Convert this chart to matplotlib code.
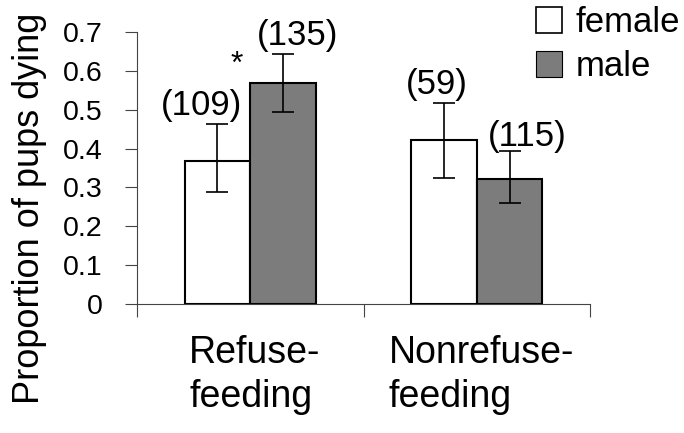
import matplotlib.pyplot as plt
from matplotlib.patches import Patch

plt.rcParams['font.family'] = ['Liberation Sans', 'DejaVu Sans']

groups = ['Refuse-\nfeeding', 'Nonrefuse-\nfeeding']
female = [0.368, 0.422]
male = [0.570, 0.321]
female_lo = [0.289, 0.325]
female_hi = [0.462, 0.518]
male_lo = [0.494, 0.259]
male_hi = [0.644, 0.393]
female_n = ['(109)', '(59)']
male_n = ['(135)', '(115)']

fig = plt.figure(figsize=(6.84, 4.33), dpi=100)
ax = fig.add_axes([137/684, 1-304/433, (590-137)/684, (304-32)/433])

w = 0.29
x = [0, 1]
xf = [i - w/2 for i in x]
xm = [i + w/2 for i in x]

ax.bar(xf, female, width=w, color='white', edgecolor='black', linewidth=1.5, zorder=2)
ax.bar(xm, male, width=w, color='#7c7c7c', edgecolor='black', linewidth=1.5, zorder=2)

ferr = [[f - lo for f, lo in zip(female, female_lo)], [hi - f for f, hi in zip(female, female_hi)]]
merr = [[m - lo for m, lo in zip(male, male_lo)], [hi - m for m, hi in zip(male, male_hi)]]
ax.errorbar(xf, female, yerr=ferr, fmt='none', ecolor='black', elinewidth=1.2, capsize=8, capthick=1.2, zorder=3)
ax.errorbar(xm, male, yerr=merr, fmt='none', ecolor='black', elinewidth=1.2, capsize=8, capthick=1.2, zorder=3)

# sample sizes above the bars
fs = 25
ax.text(xf[0] - 0.07, 0.512, female_n[0], ha='center', va='center', fontsize=fs)
ax.text(xm[0] + 0.066, 0.692, male_n[0], ha='center', va='center', fontsize=fs)
ax.text(xf[1] - 0.03, 0.566, female_n[1], ha='center', va='center', fontsize=fs)
ax.text(xm[1] + 0.077, 0.43, male_n[1], ha='center', va='center', fontsize=fs)
ax.text(-0.058, 0.615, '*', ha='center', va='center', fontsize=23)

ax.set_xlim(-0.5, 1.5)
ax.set_ylim(0, 0.7)
ax.set_yticks([0, 0.1, 0.2, 0.3, 0.4, 0.5, 0.6, 0.7])
ax.set_yticklabels(['0', '0.1', '0.2', '0.3', '0.4', '0.5', '0.6', '0.7'])
ax.set_xticks([-0.5, 0.5, 1.5])
ax.set_xticklabels([])
ax.tick_params(axis='y', direction='out', length=9, width=0.8, pad=16, labelsize=20.5, color='#444')
ax.tick_params(axis='x', direction='out', length=9, width=0.8, color='#444')

for i, g in enumerate(groups):
    ax.text(x[i] + 0.02, -0.08, g, ha='center', va='top', multialignment='left',
            fontsize=27, linespacing=1.3)

ax.spines['top'].set_visible(False)
ax.spines['right'].set_visible(False)
ax.spines['left'].set_linewidth(0.8)
ax.spines['left'].set_color('#444')
ax.spines['bottom'].set_linewidth(0.8)
ax.spines['bottom'].set_color('#444')

fig.text(30/684, 1-208/433, 'Proportion of pups dying', rotation=90, ha='center', va='center', fontsize=26)

handles = [Patch(facecolor='white', edgecolor='black', linewidth=1.2, label='female'),
           Patch(facecolor='#7c7c7c', edgecolor='black', linewidth=0.8, label='male')]
fig.legend(handles=handles, loc='upper left', bbox_to_anchor=(536/684, 1-6/433), frameon=False,
           fontsize=25, handlelength=0.75, handleheight=0.75, handletextpad=0.4,
           labelspacing=0.32, borderpad=0, borderaxespad=0)

plt.savefig('out.png', dpi=100)
